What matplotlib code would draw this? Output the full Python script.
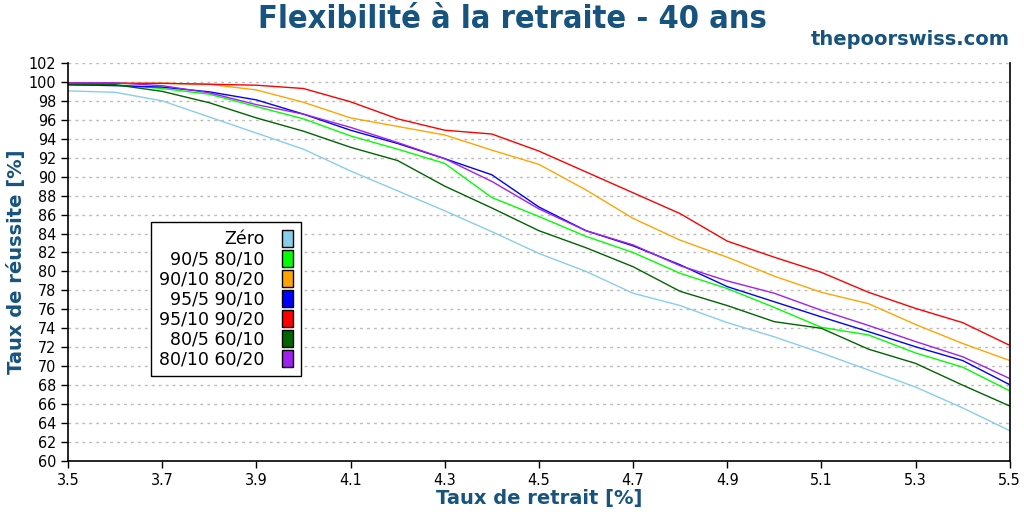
import numpy as np
import matplotlib
matplotlib.use('Agg')
import matplotlib.pyplot as plt
from matplotlib.patches import Patch

# withdrawal rates [%]
rates = [3.5, 3.6, 3.7, 3.8, 3.9, 4.0, 4.1, 4.2, 4.3, 4.4, 4.5,
         4.6, 4.7, 4.8, 4.9, 5.0, 5.1, 5.2, 5.3, 5.4, 5.5]

# success rates [%]
zero = [99.05, 98.9, 98.0, 96.3, 94.6, 92.9, 90.6, 88.5, 86.4, 84.2, 81.9,
        80.0, 77.7, 76.4, 74.6, 73.1, 71.4, 69.6, 67.8, 65.6, 63.2]
s_90_5 = [99.7, 99.7, 99.3, 98.7, 97.4, 96.1, 94.3, 92.9, 91.4, 87.8, 85.8,
          83.7, 82.0, 79.8, 78.2, 76.2, 74.1, 73.3, 71.4, 69.9, 67.4]
s_90_10 = [99.85, 99.85, 99.85, 99.75, 99.15, 97.85, 96.2, 95.3, 94.4, 92.8, 91.3,
           88.6, 85.6, 83.3, 81.5, 79.5, 77.8, 76.6, 74.4, 72.4, 70.6]
s_95_5 = [99.7, 99.6, 99.45, 98.95, 98.1, 96.6, 94.9, 93.5, 91.9, 90.2, 86.8,
          84.3, 82.7, 80.7, 78.4, 76.8, 75.2, 73.65, 72.05, 70.6, 68.05]
s_95_10 = [99.85, 99.85, 99.85, 99.75, 99.65, 99.3, 97.9, 96.1, 94.9, 94.5, 92.7,
           90.5, 88.3, 86.1, 83.2, 81.5, 79.9, 77.8, 76.1, 74.6, 72.2]
s_80_5 = [99.7, 99.7, 99.0, 97.8, 96.2, 94.8, 93.1, 91.7, 89.0, 86.7, 84.3,
          82.5, 80.5, 77.9, 76.4, 74.7, 74.0, 71.8, 70.3, 68.0, 65.8]
s_80_10 = [99.9, 99.9, 99.6, 98.85, 97.6, 96.6, 95.2, 93.6, 91.9, 89.5, 86.6,
           84.3, 82.8, 80.6, 79.0, 77.7, 75.9, 74.3, 72.6, 71.0, 68.7]

labels = ['Zéro', '90/5 80/10', '90/10 80/20', '95/5 90/10',
          '95/10 90/20', '80/5 60/10', '80/10 60/20']
series = [zero, s_90_5, s_90_10, s_95_5, s_95_10, s_80_5, s_80_10]
colors = ['#87ceeb', '#00ff00', '#ffa500', '#0000ff', '#ff0000', '#006400', '#a020f0']

blue_txt = '#16537e'

fig = plt.figure(figsize=(10.24, 5.12), dpi=100)
ax = fig.add_axes([0.0664, 0.0996, 0.9197, 0.7775])

for s, c in zip(series, colors):
    ax.plot(rates, s, color=c, linewidth=1.0)

ax.set_xlim(3.5, 5.5)
ax.set_ylim(60, 102)
ax.set_xticks(np.arange(3.5, 5.51, 0.2))
ax.set_xticklabels(['%.1f' % v for v in np.arange(3.5, 5.51, 0.2)])
ax.set_yticks(np.arange(60, 103, 2))
ax.tick_params(labelsize=11.5, length=5, width=1)
for lab in ax.get_xticklabels() + ax.get_yticklabels():
    lab.set_fontstretch('condensed')
ax.yaxis.grid(True, linestyle=(0, (2, 3)), color='#bbbbbb', linewidth=1)
ax.spines['top'].set_visible(False)
for sp in ['left', 'bottom', 'right']:
    ax.spines[sp].set_linewidth(1.2)

ax.set_xlabel('Taux de retrait [%]', fontsize=14, fontweight='bold',
              color=blue_txt, labelpad=1)
ax.set_ylabel('Taux de réussite [%]', fontsize=14, fontweight='bold',
              color=blue_txt, labelpad=2)

fig.text(0.5, 0.962, 'Flexibilité à la retraite - 40 ans', ha='center', va='center',
         fontsize=23.3, fontweight='bold', color=blue_txt, fontstretch='condensed')
fig.text(0.986, 0.922, 'thepoorswiss.com', ha='right', va='center',
         fontsize=14, fontweight='bold', color=blue_txt)

handles = [Patch(facecolor=c, edgecolor='black', linewidth=1) for c in colors]
leg = ax.legend(handles, labels, loc='upper left', bbox_to_anchor=(0.088, 0.6005),
                borderaxespad=0, markerfirst=False, fancybox=False,
                edgecolor='black', framealpha=1, fontsize=12.5,
                handlelength=0.6, handleheight=1.12, labelspacing=0.1,
                handletextpad=1.05, borderpad=0.45)
leg.get_frame().set_linewidth(1.0)
for t in leg.get_texts():
    t.set_ha('right')
leg._legend_box.align = 'right'

fig.savefig('out.png', dpi=100)
